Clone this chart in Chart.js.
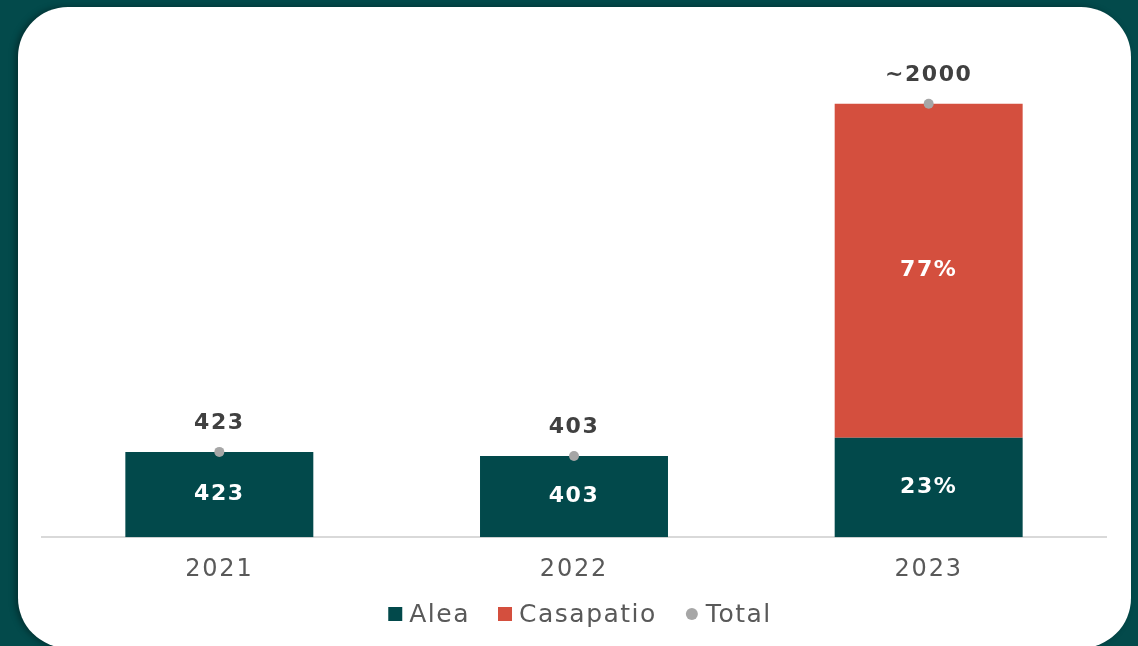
<!DOCTYPE html>
<html lang="en">
<head>
  <meta charset="UTF-8">
  <title>Alea / Casapatio</title>
  <script src="https://cdn.jsdelivr.net/npm/chart.js"></script>
  <style>
    html, body {
      margin: 0;
      padding: 0;
      width: 1138px;
      height: 646px;
      overflow: hidden;
      background: #034a4b;
    }
    .card {
      position: absolute;
      left: 18px;
      top: 7px;
      width: 1113px;
      height: 641px;
      background: #ffffff;
      border-radius: 50px;
      box-shadow: -3px 0 6px rgba(0, 0, 0, 0.35);
    }
    .chart {
      position: absolute;
      left: 0;
      top: 0;
      width: 1138px;
      height: 646px;
    }
  </style>
</head>
<body>
  <div class="card"></div>
  <div class="chart"><canvas id="c"></canvas></div>
  <script>
    // data
    const years = ["2021", "2022", "2023"];
    const alea = [423, 403, 493];
    const casapatio = [0, 0, 1656];
    const total = [423, 403, 2149];
    const insideLabels = [["423", "403", "23%"], [null, null, "77%"]];
    const totalLabels = ["423", "403", "~2000"];

    const FONT = "'DejaVu Sans', sans-serif";
    const colors = ["#02494b", "#d44f3e", "#a6a6a6"];

    // the reference font is a wide one, so widen text a bit
    const spacing = {
      id: "spacing",
      beforeUpdate(chart) { chart.ctx.letterSpacing = "1.8px"; },
      beforeDraw(chart) { chart.ctx.letterSpacing = "1.8px"; }
    };

    // labels inside bars and above total points
    const labelPlugin = {
      id: "labels",
      afterDatasetsDraw(chart) {
        const ctx = chart.ctx;
        ctx.save();
        ctx.letterSpacing = "1.5px";
        ctx.textAlign = "center";
        ctx.textBaseline = "middle";
        ctx.font = "bold 22px " + FONT;
        ctx.fillStyle = "#ffffff";
        [0, 1].forEach(di => {
          chart.getDatasetMeta(di).data.forEach((bar, i) => {
            const txt = insideLabels[di][i];
            if (!txt) return;
            ctx.fillText(txt, bar.x, (bar.y + bar.base) / 2);
          });
        });
        ctx.fillStyle = "#404040";
        chart.getDatasetMeta(2).data.forEach((pt, i) => {
          ctx.fillText(totalLabels[i], pt.x, pt.y - 29);
        });
        ctx.restore();
      }
    };

    // legend under the axis: squares for the bars, a dot for the total
    const legendPlugin = {
      id: "bottomLegend",
      afterDraw(chart) {
        const ctx = chart.ctx;
        const sets = chart.data.datasets;
        ctx.save();
        ctx.letterSpacing = "1.5px";
        ctx.font = "25px " + FONT;
        ctx.textBaseline = "middle";
        const widths = sets.map(ds => ctx.measureText(ds.label).width);
        const full = widths.reduce((a, w) => a + 14 + 7 + w, 0) + 28 * (sets.length - 1);
        let x = 580 - full / 2;
        const y = 615;
        sets.forEach((ds, i) => {
          ctx.fillStyle = colors[i];
          if (i === 2) {
            ctx.beginPath();
            ctx.arc(x + 7, y - 1, 6, 0, Math.PI * 2);
            ctx.fill();
          } else {
            ctx.fillRect(x, y - 8, 14, 14);
          }
          x += 14 + 7;
          ctx.fillStyle = "#595959";
          ctx.fillText(ds.label, x, y);
          x += widths[i] + 28;
        });
        ctx.restore();
      }
    };

    new Chart(document.getElementById("c"), {
      data: {
        labels: years,
        datasets: [
          { type: "bar", label: "Alea", data: alea, backgroundColor: colors[0], order: 2,
            barPercentage: 0.53, categoryPercentage: 1 },
          { type: "bar", label: "Casapatio", data: casapatio, backgroundColor: colors[1], order: 2,
            barPercentage: 0.53, categoryPercentage: 1 },
          { type: "line", label: "Total", data: total, showLine: false, order: 1,
            pointRadius: 5, pointHoverRadius: 5, pointStyle: "circle",
            backgroundColor: colors[2], borderColor: colors[2], borderWidth: 0 }
        ]
      },
      options: {
        responsive: true,
        maintainAspectRatio: false,
        animation: false,
        layout: { padding: { left: 42, right: 32, top: 33, bottom: 44 } },
        scales: {
          x: {
            stacked: true,
            grid: { display: false, drawTicks: false },
            border: { display: true, color: "#d9d9d9", width: 2 },
            ticks: { color: "#595959", font: { size: 24, family: FONT }, padding: 18 }
          },
          y: {
            stacked: true,
            display: false,
            min: 0,
            max: 2500
          }
        },
        plugins: {
          legend: { display: false },
          tooltip: { enabled: false }
        }
      },
      plugins: [spacing, labelPlugin, legendPlugin]
    });
  </script>
</body>
</html>
